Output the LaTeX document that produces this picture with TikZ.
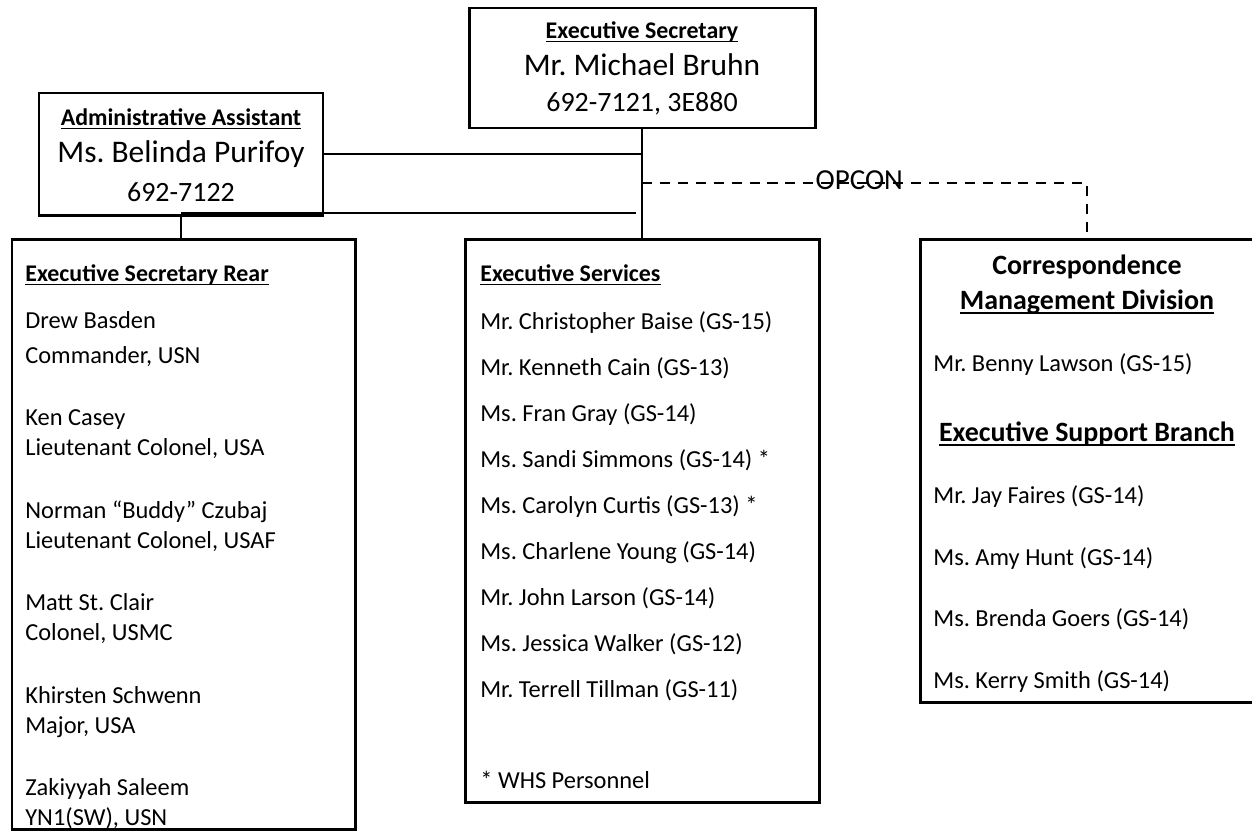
\documentclass[tikz,border=0pt]{standalone}
\usepackage{fontspec}
\setmainfont{Carlito}

\newsavebox{\ulnbox}
\newcommand{\uln}[1]{\sbox{\ulnbox}{#1}\rlap{\vrule width\wd\ulnbox height -0.11em depth 0.18em}\usebox{\ulnbox}}

\tikzset{
  unit/.style={draw, line width=1.7pt, inner sep=0pt, outer sep=0pt},
  link/.style={line width=1.4pt},
  opconline/.style={line width=1.4pt, dash pattern=on 5.7pt off 4.5pt},
  opconlabel/.style={inner sep=0pt, xshift=-3pt, yshift=1.8pt, font=\fontsize{16.5}{19}\selectfont},
  entry/.style={anchor=base west, inner sep=0pt, font=\fontsize{13.9}{16}\selectfont},
  head/.style={anchor=base west, inner sep=0pt, font=\bfseries\fontsize{13.6}{16}\selectfont},
  chiefhead/.style={anchor=base, inner sep=0pt, font=\bfseries\fontsize{13.6}{16}\selectfont},
  chiefname/.style={anchor=base, inner sep=0pt, font=\fontsize{17.9}{20}\selectfont},
  chiefphone/.style={anchor=base, inner sep=0pt, font=\fontsize{15.9}{18}\selectfont},
  divhead/.style={anchor=base, inner sep=0pt, font=\bfseries\fontsize{15.9}{18}\selectfont}
}

\begin{document}
\frenchspacing
\begin{tikzpicture}
\useasboundingbox (0,0) rectangle (25.04,-16.62);
% boxes
\node[unit, minimum width=6.92cm, minimum height=2.4cm] (exec) at (12.84,-1.36) {};
\node[unit, minimum width=5.68cm, minimum height=2.44cm] (admin) at (3.62,-3.08) {};
\node[unit, minimum width=6.86cm, minimum height=11.8cm] (rear) at (3.67,-10.68) {};
\node[unit, minimum width=7.08cm, minimum height=11.26cm] (services) at (12.84,-10.41) {};
\node[unit, minimum width=6.68cm, minimum height=9.26cm] (corr) at (21.74,-9.41) {};

% connectors
\coordinate (tap) at (12.84,-3.66);
\coordinate (lowend) at (12.72,-4.26);
\draw[link] (exec.south) -- (exec.south |- services.north);
\draw[link] (admin.east) -- (admin.east -| exec.south);
\draw[link] (admin.south) -- (admin.south |- rear.north);
\draw[link] (admin.south |- lowend) -- (lowend);
\draw[opconline] (tap) -- node[opconlabel] (opcon) {OPCON} (tap -| corr.north) -- (corr.north);

% executive secretary
\node[chiefhead] (exechead) at (12.84,-0.76) {\uln{Executive Secretary}};
\node[chiefname] (execname) at (12.84,-1.5) {Mr. Michael Bruhn};
\node[chiefphone] (execphone) at (12.84,-2.22) {692-7121, 3E880};

% administrative assistant
\node[chiefhead] (adminhead) at (3.62,-2.5) {\uln{Administrative Assistant}};
\node[chiefname] (adminname) at (3.62,-3.24) {Ms. Belinda Purifoy};
\node[chiefphone] (adminphone) at (3.62,-4.02) {692-7122};

% executive secretary rear
\node[head] (rearhead) at (0.5,-5.62) {\uln{Executive Secretary Rear}};
\node[entry] (basden) at (0.5,-6.56) {Drew Basden};
\node[entry] (basdenrank) at (0.5,-7.26) {Commander, USN};
\node[entry] (casey) at (0.5,-8.5) {Ken Casey};
\node[entry] (caseyrank) at (0.5,-9.1) {Lieutenant Colonel, USA};
\node[entry] (czubaj) at (0.5,-10.36) {Norman “Buddy” Czubaj};
\node[entry] (czubajrank) at (0.5,-10.96) {Lieutenant Colonel, USAF};
\node[entry] (clair) at (0.5,-12.2) {Matt St. Clair};
\node[entry] (clairrank) at (0.5,-12.8) {Colonel, USMC};
\node[entry] (schwenn) at (0.5,-14.06) {Khirsten Schwenn};
\node[entry] (schwennrank) at (0.5,-14.66) {Major, USA};
\node[entry] (saleem) at (0.5,-15.9) {Zakiyyah Saleem};
\node[entry] (saleemrank) at (0.5,-16.5) {YN1(SW), USN};

% executive services
\node[head] (servhead) at (9.6,-5.62) {\uln{Executive Services}};
\node[entry] (baise) at (9.6,-6.58) {Mr. Christopher Baise (GS-15)};
\node[entry] (cain) at (9.6,-7.5) {Mr. Kenneth Cain (GS-13)};
\node[entry] (gray) at (9.6,-8.42) {Ms. Fran Gray (GS-14)};
\node[entry] (simmons) at (9.6,-9.34) {Ms. Sandi Simmons (GS-14) *};
\node[entry] (curtis) at (9.6,-10.26) {Ms. Carolyn Curtis (GS-13) *};
\node[entry] (young) at (9.6,-11.18) {Ms. Charlene Young (GS-14)};
\node[entry] (larson) at (9.6,-12.1) {Mr. John Larson (GS-14)};
\node[entry] (walker) at (9.6,-13.02) {Ms. Jessica Walker (GS-12)};
\node[entry] (tillman) at (9.6,-13.94) {Mr. Terrell Tillman (GS-11)};
\node[entry] (whs) at (9.6,-15.76) {* WHS Personnel};

% correspondence management division
\node[divhead] (corrhead) at (21.74,-5.48) {Correspondence};
\node[divhead] (corrhead2) at (21.74,-6.18) {\uln{Management Division}};
\node[entry] (lawson) at (18.66,-7.42) {Mr. Benny Lawson (GS-15)};
\node[divhead] (esbhead) at (21.74,-8.82) {\uln{Executive Support Branch}};
\node[entry] (faires) at (18.66,-10.06) {Mr. Jay Faires (GS-14)};
\node[entry] (hunt) at (18.66,-11.3) {Ms. Amy Hunt (GS-14)};
\node[entry] (goers) at (18.66,-12.52) {Ms. Brenda Goers (GS-14)};
\node[entry] (smith) at (18.66,-13.76) {Ms. Kerry Smith (GS-14)};
\end{tikzpicture}
\end{document}
